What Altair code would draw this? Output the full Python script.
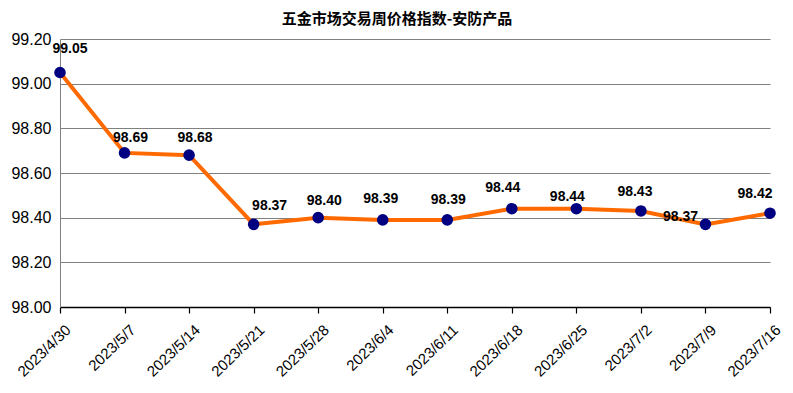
import altair as alt
import pandas as pd

dates = ["2023/4/30", "2023/5/7", "2023/5/14", "2023/5/21", "2023/5/28", "2023/6/4",
         "2023/6/11", "2023/6/18", "2023/6/25", "2023/7/2", "2023/7/9", "2023/7/16"]
values = [99.05, 98.69, 98.68, 98.37, 98.40, 98.39, 98.39, 98.44, 98.44, 98.43, 98.37, 98.42]
y_ticks = [98.0, 98.2, 98.4, 98.6, 98.8, 99.0, 99.2]

# label nudges (style only): (dx, dy) per point
label_nudge = [(10, -24), (6, -15), (6, -17), (16, -18), (6, -17), (-2, -21),
               (1, -20), (-9, -21), (-9, -12), (-6, -19), (-25, -7), (-15, -19)]

df = pd.DataFrame({"date": dates, "value": values})

x = alt.X("date:N", sort=dates, title=None,
          scale=alt.Scale(type="point", padding=0),
          axis=alt.Axis(labelAngle=-44, labelAlign="right", labelBaseline="top",
                        labelFont="Liberation Sans", labelFontSize=15, labelColor="#000",
                        domainColor="#000", domainWidth=1.5, tickColor="#000", tickSize=6,
                        tickWidth=1.2, labelPadding=9, labelOffset=3, grid=False,
                        labelOverlap=False))
y = alt.Y("value:Q", title=None,
          scale=alt.Scale(domain=[98.0, 99.2], nice=False, zero=False),
          axis=alt.Axis(values=y_ticks, format=".2f", labelFont="Liberation Sans",
                        labelFontSize=16, labelColor="#000", ticks=False, labelPadding=9,
                        domainColor="#808080", gridColor="#808080", gridOpacity=1))

base = alt.Chart(df)
layers = [
    base.mark_line(color="#FF6A00", strokeWidth=4).encode(x=x, y=y),
    base.mark_circle(color="#000080", opacity=1, size=135).encode(x=x, y=y),
]
for d, (ndx, ndy) in zip(dates, label_nudge):
    layers.append(
        base.transform_filter(alt.datum.date == d).mark_text(
            font="Liberation Sans", fontSize=14, fontWeight="bold", color="#000",
            dx=ndx, dy=ndy
        ).encode(x=x, y=y, text=alt.Text("value:Q", format=".2f"))
    )

chart = alt.layer(*layers).properties(
    width=710, height=268,
    autosize=alt.AutoSizeParams(type="none"),
    padding={"left": 52, "top": 31, "right": 15, "bottom": 77},
    title=alt.TitleParams("五金市场交易周价格指数-安防产品", font="Noto Sans CJK SC",
                          fontSize=15, fontWeight="bold", color="#000", anchor="middle",
                          offset=4, dx=-18)
).configure_view(stroke=None)

chart.save("out.html", embed_options={"renderer": "svg", "actions": False})
